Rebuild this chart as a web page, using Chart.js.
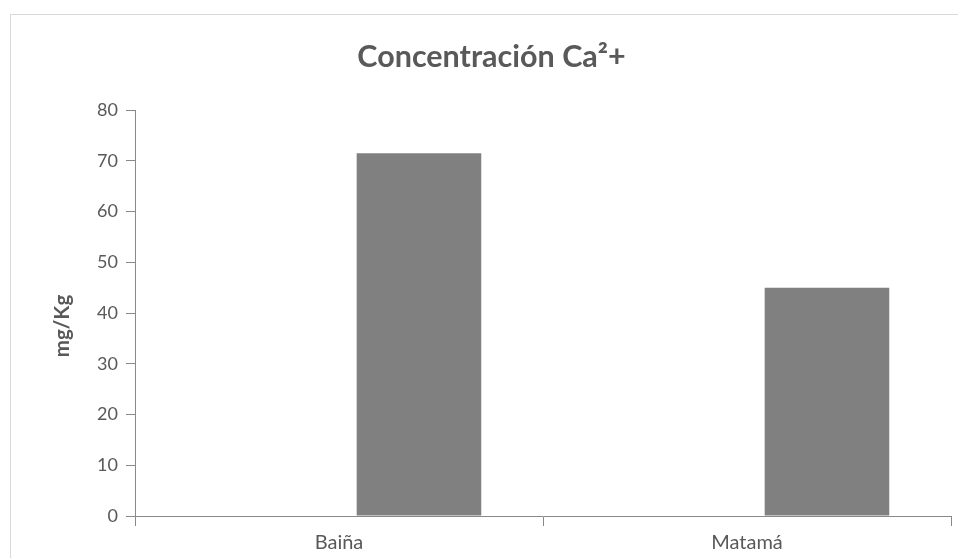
<!DOCTYPE html>
<html>
<head>
<meta charset="utf-8">
<script src="https://cdn.jsdelivr.net/npm/chart.js@4"></script>
<style>
  html, body { margin: 0; padding: 0; background: #fff; overflow: hidden; width: 958px; height: 558px; }
  #frame { position: absolute; left: 10px; top: 14px; width: 1000px; height: 600px; border: 1px solid #d9d9d9; box-sizing: border-box; }
  #wrap { position: absolute; left: 0; top: 0; width: 983px; height: 558px; }
</style>
</head>
<body>
<div id="frame"></div>
<div id="wrap"><canvas id="c" width="983" height="558"></canvas></div>
<script>
// Sampling sites and measured calcium concentration (mg/Kg)
const categories = ['Baiña', 'Matamá'];
const blankSeries = [null, null];
const calcium = [71.5, 45];
const yTicks = [0, 10, 20, 30, 40, 50, 60, 70, 80];

const TEXT = '#595959';
const AXIS = '#898989';
const FONT = 'Lato, "Open Sans", sans-serif';

// Rotated y-axis caption
const yCaption = {
  id: 'yCaption',
  afterDraw(chart) {
    const { ctx, chartArea } = chart;
    ctx.save();
    ctx.translate(62, (chartArea.top + chartArea.bottom) / 2 + 13);
    ctx.rotate(-Math.PI / 2);
    ctx.font = 'bold 20.5px ' + FONT;
    ctx.fillStyle = TEXT;
    ctx.textAlign = 'center';
    ctx.textBaseline = 'middle';
    ctx.fillText('mg/Kg', 0, 0);
    ctx.restore();
  }
};

new Chart(document.getElementById('c'), {
  type: 'bar',
  data: {
    labels: categories,
    datasets: [
      { label: 'Serie 1', data: blankSeries, backgroundColor: '#808080' },
      { label: 'Serie 2', data: calcium, backgroundColor: '#808080' }
    ]
  },
  options: {
    responsive: false,
    devicePixelRatio: 1,
    animation: false,
    categoryPercentage: 0.784,
    barPercentage: 0.779,
    layout: { padding: { left: 32, right: 32, top: 0, bottom: 0 } },
    plugins: {
      legend: { display: false },
      tooltip: { enabled: false },
      title: {
        display: true,
        text: 'Concentración Ca²+',
        color: TEXT,
        font: { family: FONT, size: 30.5, weight: 'bold', lineHeight: 1.2 },
        padding: { top: 38.5, bottom: 34.9 }
      }
    },
    scales: {
      x: {
        grid: { offset: true, drawOnChartArea: false, drawTicks: true, tickLength: 10, color: AXIS, lineWidth: 1 },
        border: { display: true, color: AXIS, width: 1 },
        ticks: { color: TEXT, font: { family: FONT, size: 20 }, padding: 5 },
        afterFit(scale) { scale.height = 42; }
      },
      y: {
        min: 0,
        max: 80,
        afterBuildTicks(scale) { scale.ticks = yTicks.map(v => ({ value: v })); },
        grid: { drawOnChartArea: false, drawTicks: true, tickLength: 9, color: AXIS, lineWidth: 1 },
        border: { display: true, color: AXIS, width: 1 },
        ticks: { color: TEXT, font: { family: FONT, size: 18 }, padding: 8 },
        afterFit(scale) { scale.width = 103; }
      }
    }
  },
  plugins: [yCaption]
});
</script>
</body>
</html>
